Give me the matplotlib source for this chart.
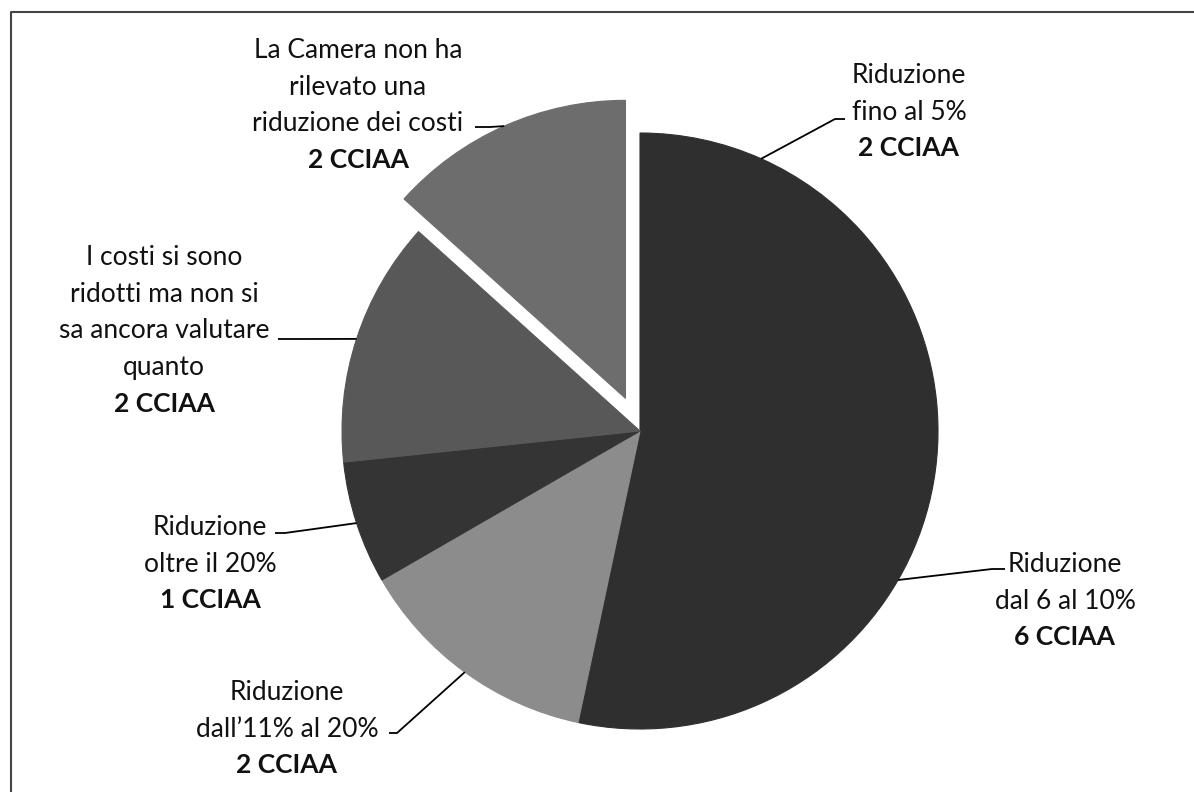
import numpy as np
import matplotlib
matplotlib.use("Agg")
import matplotlib.pyplot as plt

plt.rcParams['font.family'] = ['Lato', 'DejaVu Sans']

# dati (CCIAA per classe di riduzione dei costi)
categorie = [
    "Riduzione\nfino al 5%",
    "Riduzione\ndal 6 al 10%",
    "Riduzione\ndall\u201911% al 20%",
    "Riduzione\noltre il 20%",
    "I costi si sono\nridotti ma non si\nsa ancora valutare\nquanto",
    "La Camera non ha\nrilevato una\nriduzione dei costi",
]
valori = [2, 6, 2, 1, 2, 2]
colori = ['#2f2f2f', '#2f2f2f', '#8c8c8c', '#343434', '#585858', '#6d6d6d']
esplodi = [0, 0, 0, 0, 0, 0.12]

W, H = 1194, 792
raggio = 298

# posizione etichette in pixel (x centro, baseline prima riga) e gomito della linea guida
lab_x = [909, 1065, 287, 210, 164, 358]
lab_y = [83, 572, 700, 535, 265, 58]
gomito = [(835, 119), (992, 569), (397, 733), (285, 533), (300, 339), (490, 127)]
fine = [(845, 119), (1005, 569), (389, 733), (275, 533), (278, 339), (475, 127)]
passo = 36.7

fig = plt.figure(figsize=(W / 100, H / 100), dpi=100)
ax = fig.add_axes([0, 0, 1, 1])

wedges, _ = ax.pie(valori, colors=colori, startangle=90, counterclock=False,
                   center=(640, H - 431), radius=raggio,
                   explode=[e * raggio for e in esplodi],
                   wedgeprops=dict(linewidth=0.8))
for w in wedges:
    w.set_edgecolor(w.get_facecolor())

ax.set_xlim(0, W)
ax.set_ylim(0, H)
ax.set_aspect('equal')
ax.axis('off')

for i, w in enumerate(wedges):
    t = np.deg2rad((w.theta1 + w.theta2) / 2)
    px = w.center[0] + w.r * np.cos(t)
    py = w.center[1] + w.r * np.sin(t)
    gx, gy = gomito[i]
    fx, fy = fine[i]
    ax.plot([px, gx, fx], [py, H - gy, H - fy], color='black', lw=1.3,
            solid_capstyle='butt', zorder=3)

    righe = categorie[i].split("\n")
    for k, r in enumerate(righe):
        ax.text(lab_x[i], H - (lab_y[i] + k * passo), r, ha='center',
                va='baseline', fontsize=19, color='#111111')
    ax.text(lab_x[i], H - (lab_y[i] + len(righe) * passo), f"{valori[i]} CCIAA",
            ha='center', va='baseline', fontsize=19, fontweight='bold',
            color='#111111')

# cornice
ax.plot([11, 11, W], [0, H - 12, H - 12], color='#444444', lw=1.5, clip_on=False)

fig.savefig("out.png", dpi=100)
